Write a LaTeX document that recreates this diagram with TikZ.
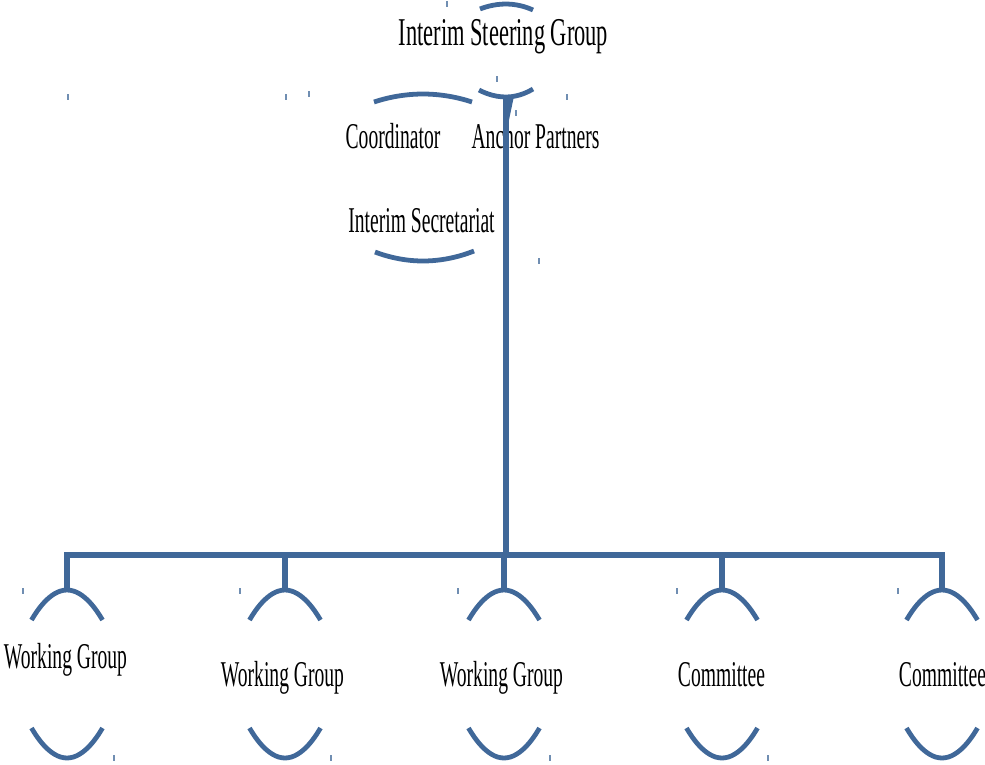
\documentclass[tikz,border=0pt]{standalone}
\usepackage{fontspec}
\setmainfont{Liberation Serif}[FakeStretch=0.54]
\newfontfamily\headfont{Liberation Serif}[FakeStretch=0.57]
\usetikzlibrary{calc}
\definecolor{orgblue}{RGB}{64,104,153}
\def\halfw{35.5}
\tikzset{
  unit/.style={inner sep=0pt,anchor=base,text=black,
    font=\fontsize{25.8}{30}\selectfont},
  head/.style={unit,font=\headfont\fontsize{28}{32}\selectfont},
  link/.style={draw=orgblue,line width=3.6pt},
  rim/.style={draw=orgblue,line width=3.4pt},
  speck/.style={draw=orgblue!75,line width=0.8pt}
}
\begin{document}
\begin{tikzpicture}[x=0.025cm,y=-0.025cm]
\useasboundingbox (0,0) rectangle (985,764);
% upper part
\node[head] (isg) at (503.5,45) {Interim Steering Group};
\node[unit] (coord) at (393,148) {Coordinator};
\node[unit] (anchor) at (535.5,148) {Anchor Partners};
\node[unit] (isec) at (421.5,232) {Interim Secretariat};
\draw[rim] (480,9) parabola bend (506,4) (533,10);
\draw[rim] (479,90) parabola bend (506,97) (533,89);
\draw[rim] (374,102) parabola bend (423,94) (472,102);
\draw[rim] (375,252) parabola bend (423,261) (474,251);
% lower row
\foreach \x/\y/\t[count=\i] in {65.5/668/Working Group,282.5/686/Working Group,%
    501.5/686/Working Group,721.5/686/Committee,942.5/686/Committee}{
    \node[unit] (u-\i) at (\x,\y) {\t};
}
\foreach \x[count=\i] in {67,285,504,722,942}{
    \coordinate (top-\i) at (\x,590);
    \draw[rim] ({\x-\halfw},620) parabola bend (top-\i) ({\x+\halfw},620);
    \draw[rim] ({\x-\halfw},728) parabola bend (\x,758) ({\x+\halfw},728);
}
% tree
\coordinate (trunk) at (506,97);
\coordinate (bus) at (506,555);
\draw[link] (trunk) -- (bus);
\fill[orgblue] (503,96) -- (514,96) -- (509,120) -- (503,120) -- cycle;
\draw[link] (top-1) |- (bus) -| (top-5);
\foreach \i in {2,3,4}{
    \draw[link] (top-\i) -- (top-\i |- bus);
}
% stray marks
\foreach \x/\y in {68/97,286/97,309/94,447/4,497/79,567/97,516/113,539/261,%
    23/591,240/591,458/591,677/591,898/591,114/758,331/758,550/758,768/758}{
    \draw[speck] (\x,{\y-3}) -- (\x,{\y+3});
}
\end{tikzpicture}
\end{document}
